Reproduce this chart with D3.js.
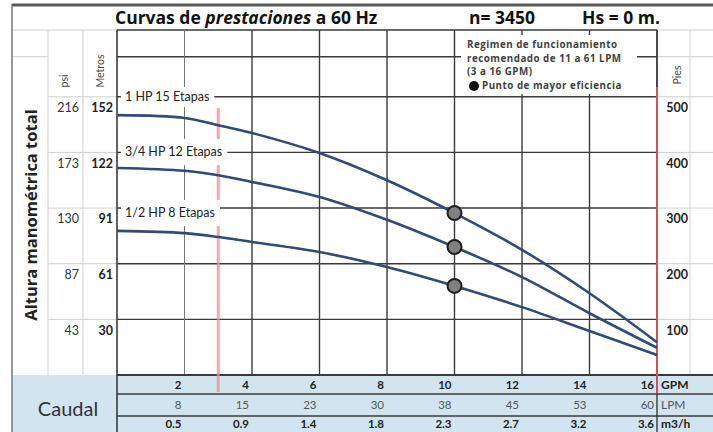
<!DOCTYPE html>
<html><head><meta charset="utf-8">
<script src="https://cdn.jsdelivr.net/npm/d3@7"></script>
<style>html,body{margin:0;padding:0;background:#fff;}svg{display:block;}</style>
</head><body>
<svg id="c" width="713" height="432"></svg>
<script>
// ---- data ----
const gpm = [0, 2, 3, 4, 6, 8, 10, 12, 14, 16];
const hp1Ft = [467, 462, 449, 435, 399, 350, 291, 225, 147, 59];
const hp34Ft = [372, 367, 359, 347, 320, 279, 230, 176, 111, 49];
const hp12Ft = [259, 255, 248, 239, 221, 194, 160, 122, 79, 36];
const seriesNames = ["1 HP 15 Etapas", "3/4 HP 12 Etapas", "1/2 HP 8 Etapas"];
const bepGpm = [10, 10, 10];
const bepFt = [291, 230, 160];
const ftTicks = [500, 400, 300, 200, 100];
const metrosTicks = [152, 122, 91, 61, 30];
const psiTicks = [216, 173, 130, 87, 43];
const gpmTicks = [2, 4, 6, 8, 10, 12, 14, 16];
const lpmTicks = [8, 15, 23, 30, 38, 45, 53, 60];
const m3hTicks = ["0.5", "0.9", "1.4", "1.8", "2.3", "2.7", "3.2", "3.6"];
const recMinGpm = 3, recMaxGpm = 16;
const legendLines = ["Regimen de funcionamiento", "recomendado de 11 a 61 LPM", "(3 a 16 GPM)", "Punto de mayor eficiencia"];

// ---- layout ----
const svg = d3.select("#c");
const W = 713, H = 432;
const x = d3.scaleLinear().domain([0, 16]).range([117, 657]);
const y = d3.scaleLinear().domain([0, 620]).range([375, 30]);
const colL = 12, colPsi = 48, colM = 83, colR2 = 690;
const tableTop = 375, row1 = 394, row2 = 416;
const light = "#cfcfcf", dark = "#3a3a3a";
const hLines = [620, 572, 500, 400, 300, 200, 100];

// table background
svg.append("rect").attr("x", colL).attr("y", tableTop).attr("width", W - colL).attr("height", H - tableTop).attr("fill", "#d2e4ef");

// left light lines
const g = svg.append("g");
g.append("line").attr("x1", colL).attr("x2", x(0)).attr("y1", y(620)).attr("y2", y(620)).attr("stroke", light);
g.append("line").attr("x1", colL).attr("x2", colPsi).attr("y1", y(572)).attr("y2", y(572)).attr("stroke", light);
[500, 400, 300, 200, 100].forEach(v => {
  g.append("line").attr("x1", colPsi).attr("x2", x(0)).attr("y1", y(v)).attr("y2", y(v)).attr("stroke", light);
});
[colPsi, colM].forEach(cx => g.append("line").attr("x1", cx).attr("x2", cx).attr("y1", y(620)).attr("y2", tableTop).attr("stroke", light));
// right light lines
hLines.forEach(v => {
  g.append("line").attr("x1", x(16)).attr("x2", W).attr("y1", y(v)).attr("y2", y(v)).attr("stroke", light);
});
g.append("line").attr("x1", colR2).attr("x2", colR2).attr("y1", y(620)).attr("y2", tableTop).attr("stroke", light);

// plot grid
const grid = svg.append("g");
hLines.forEach(v => {
  grid.append("line").attr("x1", x(0)).attr("x2", x(16)).attr("y1", y(v)).attr("y2", y(v)).attr("stroke", dark).attr("stroke-width", 1.4);
});
gpmTicks.forEach(v => {
  const faint = v === 2;
  grid.append("line").attr("x1", x(v)).attr("x2", x(v)).attr("y1", y(620)).attr("y2", tableTop)
    .attr("stroke", faint ? "#777" : dark).attr("stroke-width", faint ? 1 : 1.4);
});
grid.append("line").attr("x1", x(0)).attr("x2", x(0)).attr("y1", y(620)).attr("y2", H).attr("stroke", dark).attr("stroke-width", 1.6);
grid.append("line").attr("x1", x(16)).attr("x2", x(16)).attr("y1", y(620)).attr("y2", H).attr("stroke", dark).attr("stroke-width", 1.4);

// table row lines
[tableTop, row1, row2].forEach(ry => {
  svg.append("line").attr("x1", x(0)).attr("x2", W).attr("y1", ry).attr("y2", ry).attr("stroke", dark).attr("stroke-width", ry === tableTop ? 1.8 : 1.4);
});

// recommended range lines
svg.append("line").attr("x1", x(recMinGpm)).attr("x2", x(recMinGpm)).attr("y1", 108).attr("y2", row1 - 2)
  .attr("stroke", "#f08a94").attr("stroke-opacity", 0.75).attr("stroke-width", 3);
svg.append("line").attr("x1", x(recMaxGpm)).attr("x2", x(recMaxGpm)).attr("y1", 87).attr("y2", row1 - 1)
  .attr("stroke", "#d4505c").attr("stroke-width", 2);

// outer border
svg.append("line").attr("x1", colL).attr("x2", W).attr("y1", 5).attr("y2", 5).attr("stroke", "#5a5a5a").attr("stroke-width", 3);
svg.append("line").attr("x1", colL).attr("x2", colL).attr("y1", 4).attr("y2", H).attr("stroke", "#777").attr("stroke-width", 1.5);

// curves
const line = d3.line().x(d => x(d[0])).y(d => y(d[1])).curve(d3.curveCatmullRom.alpha(0.5));
[hp1Ft, hp34Ft, hp12Ft].forEach(arr => {
  svg.append("path").attr("d", line(gpm.map((v, i) => [v, arr[i]])))
    .attr("fill", "none").attr("stroke", "#2f4b7a").attr("stroke-width", 2.6);
});

// curve labels with white backgrounds
const labelY = [97, 152, 213];
seriesNames.forEach((name, i) => {
  const t = svg.append("text").attr("x", 125).attr("y", labelY[i]).attr("dy", "0.35em")
    .attr("font-family", "Lato").attr("font-size", 12.5).attr("fill", "#222").text(name);
  const bb = t.node().getBBox();
  const hgt = i === 0 ? 20 : 26;
  svg.insert("rect", () => t.node()).attr("x", 121).attr("y", labelY[i] - hgt / 2).attr("width", bb.x + bb.width + 5 - 121).attr("height", hgt).attr("fill", "#fff");
});

// dots
bepGpm.forEach((v, i) => {
  svg.append("circle").attr("cx", x(v)).attr("cy", y(bepFt[i])).attr("r", 7)
    .attr("fill", "#808080").attr("stroke", "#1e1e1e").attr("stroke-width", 2);
});

// legend
svg.append("rect").attr("x", 461).attr("y", 35).attr("width", 176).attr("height", 59).attr("fill", "#fff");
const legY = [45, 58.5, 72, 86];
legendLines.forEach((s, i) => {
  svg.append("text").attr("x", i === 3 ? 482 : 467).attr("y", legY[i]).attr("dy", "0.35em")
    .attr("font-family", "Open Sans").attr("font-weight", "bold").attr("font-size", 9.8)
    .attr("letter-spacing", 0.5).attr("fill", "#3e3e3e").text(s);
});
svg.append("circle").attr("cx", 474).attr("cy", legY[3]).attr("r", 5).attr("fill", "#111");

// title
const tf = {family: "Open Sans", size: 17.5};
const title = svg.append("text").attr("x", 115).attr("y", 23.5).attr("font-family", tf.family).attr("font-weight", "bold").attr("font-size", tf.size).attr("fill", "#111");
title.append("tspan").text("Curvas de ");
title.append("tspan").attr("font-style", "italic").text("prestaciones");
title.append("tspan").text(" a 60 Hz");
svg.append("text").attr("x", 469).attr("y", 23.5).attr("font-family", tf.family).attr("font-weight", "bold").attr("font-size", tf.size).attr("fill", "#111").text("n= 3450");
svg.append("text").attr("x", 582).attr("y", 23.5).attr("font-family", tf.family).attr("font-weight", "bold").attr("font-size", tf.size).attr("fill", "#111").text("Hs = 0 m.");

// left axis title
svg.append("text").attr("transform", "translate(37,215) rotate(-90)").attr("text-anchor", "middle")
  .attr("font-family", "Open Sans").attr("font-weight", "bold").attr("font-size", 16.5).attr("fill", "#222").text("Altura manométrica total");
svg.append("text").attr("transform", "translate(68,81) rotate(-90)").attr("text-anchor", "middle")
  .attr("font-family", "Lato").attr("font-size", 10.5).attr("fill", "#444").text("psi");
svg.append("text").attr("transform", "translate(104,71) rotate(-90)").attr("text-anchor", "middle")
  .attr("font-family", "Lato").attr("font-size", 10.5).attr("fill", "#444").text("Metros");
svg.append("text").attr("transform", "translate(681,75) rotate(-90)").attr("text-anchor", "middle")
  .attr("font-family", "Lato").attr("font-size", 10.5).attr("fill", "#444").text("Pies");

// y tick labels
ftTicks.forEach((v, i) => {
  const ty = y(v) + 11;
  svg.append("text").attr("x", 79).attr("y", ty).attr("dy", "0.35em").attr("text-anchor", "end")
    .attr("font-family", "Lato").attr("font-size", 12.5).attr("fill", "#333").text(psiTicks[i]);
  svg.append("text").attr("x", 113).attr("y", ty).attr("dy", "0.35em").attr("text-anchor", "end")
    .attr("font-family", "Lato").attr("font-weight", "bold").attr("font-size", 12.5).attr("fill", "#222").text(metrosTicks[i]);
  svg.append("text").attr("x", 688).attr("y", ty).attr("dy", "0.35em").attr("text-anchor", "end")
    .attr("font-family", "Lato").attr("font-weight", "bold").attr("font-size", 12.5).attr("fill", "#222").text(v);
});

// x table labels
const rowsY = [(tableTop + row1) / 2, (row1 + row2) / 2, (row2 + H) / 2];
gpmTicks.forEach((v, i) => {
  svg.append("text").attr("x", x(v) - 3).attr("y", rowsY[0]).attr("dy", "0.35em").attr("text-anchor", "end")
    .attr("font-family", "Lato").attr("font-weight", "bold").attr("font-size", 11.5).attr("fill", "#222").text(v);
  svg.append("text").attr("x", x(v) - 3).attr("y", rowsY[1]).attr("dy", "0.35em").attr("text-anchor", "end")
    .attr("font-family", "Lato").attr("font-size", 11.5).attr("fill", "#555").text(lpmTicks[i]);
  svg.append("text").attr("x", x(v) - 3).attr("y", rowsY[2]).attr("dy", "0.35em").attr("text-anchor", "end")
    .attr("font-family", "Lato").attr("font-weight", "bold").attr("font-size", 11.5).attr("fill", "#222").text(m3hTicks[i]);
});
[["GPM", "bold", "#222"], ["LPM", "normal", "#555"], ["m3/h", "bold", "#222"]].forEach((u, i) => {
  svg.append("text").attr("x", x(16) + 4).attr("y", rowsY[i]).attr("dy", "0.35em")
    .attr("font-family", "Lato").attr("font-weight", u[1]).attr("font-size", 12).attr("fill", u[2]).text(u[0]);
});
svg.append("text").attr("x", 68).attr("y", 409).attr("dy", "0.35em").attr("text-anchor", "middle")
  .attr("font-family", "Lato").attr("font-size", 20).attr("fill", "#333").text("Caudal");
</script>
</body></html>
